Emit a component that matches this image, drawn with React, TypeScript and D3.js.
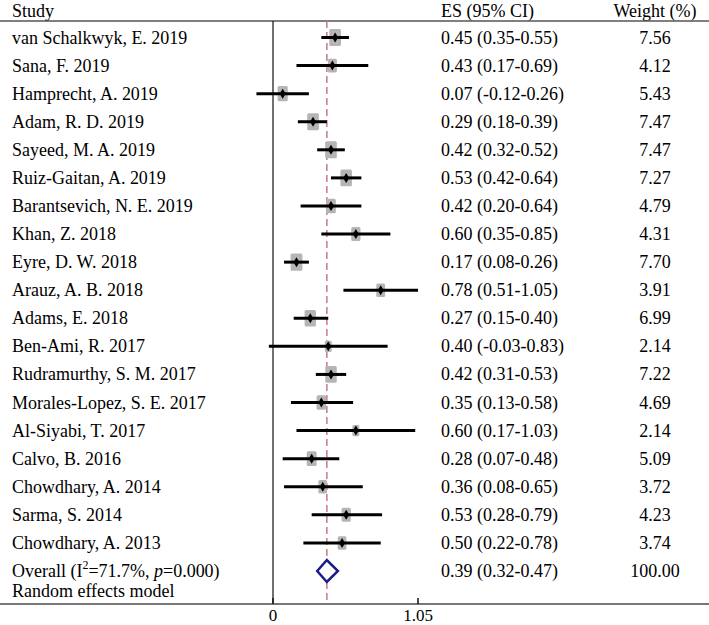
import React from "react";
import * as d3 from "d3";

const studies = [
  "van Schalkwyk, E. 2019",
  "Sana, F. 2019",
  "Hamprecht, A. 2019",
  "Adam, R. D. 2019",
  "Sayeed, M. A. 2019",
  "Ruiz-Gaitan, A. 2019",
  "Barantsevich, N. E. 2019",
  "Khan, Z. 2018",
  "Eyre, D. W. 2018",
  "Arauz, A. B. 2018",
  "Adams, E. 2018",
  "Ben-Ami, R. 2017",
  "Rudramurthy, S. M. 2017",
  "Morales-Lopez, S. E. 2017",
  "Al-Siyabi, T. 2017",
  "Calvo, B. 2016",
  "Chowdhary, A. 2014",
  "Sarma, S. 2014",
  "Chowdhary, A. 2013",
];
const es = [0.45, 0.43, 0.07, 0.29, 0.42, 0.53, 0.42, 0.6, 0.17, 0.78, 0.27, 0.4, 0.42, 0.35, 0.6, 0.28, 0.36, 0.53, 0.5];
const lower = [0.35, 0.17, -0.12, 0.18, 0.32, 0.42, 0.2, 0.35, 0.08, 0.51, 0.15, -0.03, 0.31, 0.13, 0.17, 0.07, 0.08, 0.28, 0.22];
const upper = [0.55, 0.69, 0.26, 0.39, 0.52, 0.64, 0.64, 0.85, 0.26, 1.05, 0.4, 0.83, 0.53, 0.58, 1.03, 0.48, 0.65, 0.79, 0.78];
const weights = [7.56, 4.12, 5.43, 7.47, 7.47, 7.27, 4.79, 4.31, 7.7, 3.91, 6.99, 2.14, 7.22, 4.69, 2.14, 5.09, 3.72, 4.23, 3.74];
const overall = { es: 0.39, lo: 0.32, hi: 0.47, weight: "100.00" };
const axisTicks = [0, 1.05];
const axisTickLabels = ["0", "1.05"];

const fmt = (v: number) => v.toFixed(2);
const ciText = (e: number, l: number, u: number) => `${fmt(e)} (${fmt(l)}-${fmt(u)})`;

function T(props: { x: number; y: number; anchor?: string; size?: number; sy?: number; children: React.ReactNode }) {
  const { x, y, anchor, size, sy, children } = props;
  return (
    <text
      transform={`translate(${x},${y}) scale(1,${sy ?? 1.1})`}
      textAnchor={anchor || "start"}
      fontSize={size}
      fill="#000"
    >
      {children}
    </text>
  );
}

export default function App() {
  const W = 709;
  const H = 625;
  const x = d3.scaleLinear().domain([0, 1.05]).range([273, 418]);
  const rowKeys = [...studies.map((_, i) => `s${i}`), "overall"];
  const y = d3.scalePoint<string>().domain(rowKeys).range([37.5, 571]);
  const boxW = d3.scaleSqrt().domain([0, 8]).range([1.5, 12]);

  const font = "'Liberation Serif', 'Times New Roman', serif";
  const fs = 18;
  const topY = 21;
  const axisY = 604;
  const xo = x(overall.es);
  const oy = y("overall") as number;
  const colES = 441;
  const colW = 655;

  return (
    <div style={{ position: "absolute", left: 0, top: 0 }}>
      <svg width={W} height={H} style={{ display: "block" }} fontFamily={font} fontSize={fs}>
        <rect x={0} y={0} width={W} height={H} fill="#fff" />
        {/* header */}
        <T x={12} y={16.5} sy={1}>Study</T>
        <T x={colES} y={16.5} sy={1}>ES (95% CI)</T>
        <T x={colW} y={16.5} sy={1} anchor="middle">Weight (%)</T>
        <line x1={0} x2={W} y1={topY} y2={topY} stroke="#555" strokeWidth={1.5} />

        {/* zero line */}
        <line x1={x(0)} x2={x(0)} y1={topY} y2={axisY} stroke="#111" strokeWidth={1.2} />
        {/* overall dashed line */}
        <line x1={xo} x2={xo} y1={topY} y2={axisY} stroke="#c57a86" strokeWidth={1.5} strokeDasharray="7,4" />

        {studies.map((s, i) => {
          const cy = y(`s${i}`) as number;
          const bw = boxW(weights[i]);
          const bh = bw * 1.2 + 3;
          const cx = x(es[i]);
          return (
            <g key={s}>
              <rect x={cx - bw / 2} y={cy - bh / 2} width={bw} height={bh} fill="#b5b5b5" rx={1.5} />
              <line x1={x(lower[i])} x2={x(upper[i])} y1={cy} y2={cy} stroke="#000" strokeWidth={3} />
              <path d={`M${cx - 3},${cy} L${cx},${cy - 5} L${cx + 3},${cy} L${cx},${cy + 5} Z`} fill="#000" />
              <T x={12} y={cy + 6}>{s}</T>
              <T x={colES} y={cy + 6}>{ciText(es[i], lower[i], upper[i])}</T>
              <T x={colW} y={cy + 6} anchor="middle">{weights[i].toFixed(2)}</T>
            </g>
          );
        })}

        {/* overall */}
        <path
          d={`M${x(overall.lo)},${oy} L${xo},${oy - 11} L${x(overall.hi)},${oy} L${xo},${oy + 11} Z`}
          fill="#fff"
          stroke="#1c1c86"
          strokeWidth={2.5}
        />
        <T x={12} y={oy + 6}>
          Overall (I<tspan fontSize={12} dy={-7}>2</tspan>
          <tspan dy={7}>=71.7%, </tspan>
          <tspan fontStyle="italic">p</tspan>=0.000)
        </T>
        <T x={colES} y={oy + 6}>{ciText(overall.es, overall.lo, overall.hi)}</T>
        <T x={colW} y={oy + 6} anchor="middle">{overall.weight}</T>
        <T x={12} y={597}>Random effects model</T>

        {/* axis */}
        <line x1={0} x2={W} y1={axisY} y2={axisY} stroke="#777" strokeWidth={2} />
        {axisTicks.map((t, i) => (
          <g key={t}>
            <line x1={x(t)} x2={x(t)} y1={axisY - 6} y2={axisY} stroke="#111" strokeWidth={1.5} />
            <T x={x(t)} y={621} anchor="middle" size={17} sy={1}>{axisTickLabels[i]}</T>
          </g>
        ))}
      </svg>
    </div>
  );
}
